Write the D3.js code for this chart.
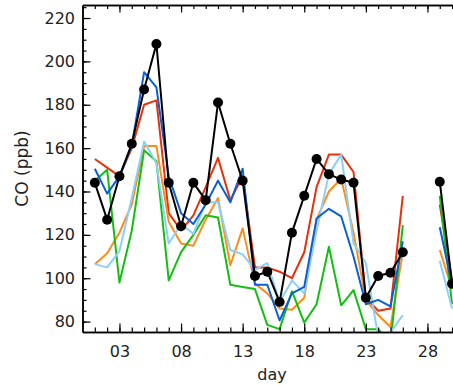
<!DOCTYPE html>
<html>
<head>
<meta charset="utf-8">
<script src="https://cdn.jsdelivr.net/npm/d3@7"></script>
<style>
  body { margin: 0; background: #fff; }
  text { font-family: "DejaVu Sans", sans-serif; fill: #222; }
</style>
</head>
<body>
<svg id="chart" width="453" height="385"></svg>
<script>
// days 1..30, null = no data
var days = d3.range(1, 31)
var xTickDays = [3, 8, 13, 18, 23, 28]
var xTickLabels = ["03", "08", "13", "18", "23", "28"]
var yTicks = [80, 100, 120, 140, 160, 180, 200, 220]

var obsCO   = [144,127,147,162,187,208,144,124,144,136,181,162,145,101,103,89,121,138,155,148,145.5,144,91,101,102.5,112,null,null,144.5,97.5]
var redCO   = [155,151,147,160,180,182,130,122,129,142,155.5,136,147,105,105,103,100,112,142,157,157,149,91,85,86,138,null,null,134,99]
var orangeCO= [106.5,111.5,121,134,161,161,126,116,115,127,137,106,123,97.5,93,86,85.5,91,127,140,146,121,90,83,77.5,112,null,null,113,95]
var greenCO = [145,150,98,122,159,154,99,112,120,129,128,97,96,95,78.5,76.5,94,79.5,88,114.5,87.5,94.5,76.5,76.5,70,124.5,null,null,138,88]
var ltblueCO= [106.5,105,112.5,137,163,153,116,125,120.5,135,135,113,111,104,107,89,99,93,122,148,157,116,107,73,75,83,null,null,108,86]
var blueCO  = [150.5,139,147,161,195,188,147,130,125,134,145,135,150.5,97,97,80.5,93,96,127.5,132,128.5,110,88,90,87,117,null,null,123.5,97]

var series = [
  {name: "red", values: redCO, color: "#e8300a"},
  {name: "orange", values: orangeCO, color: "#ff8c1a"},
  {name: "green", values: greenCO, color: "#12bf12"},
  {name: "ltblue", values: ltblueCO, color: "#8ccff8"},
  {name: "blue", values: blueCO, color: "#0a5fd4"},
  {name: "obs", values: obsCO, color: "#000"}
]

var svg = d3.select("#chart")
var padL = 82.5, padT = 5, padB = 332, padR = 464.4
var x = d3.scaleLinear().domain([0, 31]).range([padL, padR])
var y = d3.scaleLinear().domain([75.2, 226]).range([padB, padT])

svg.append("clipPath").attr("id", "plotclip")
  .append("rect")
  .attr("x", padL).attr("y", padT)
  .attr("width", padR - padL).attr("height", padB - padT)

var line = d3.line()
  .defined(d => d.v != null)
  .x(d => x(d.day))
  .y(d => y(d.v))

var plot = svg.append("g").attr("clip-path", "url(#plotclip)")

series.forEach(s => {
  var pts = days.map((d, i) => ({day: d, v: s.values[i]}))
  plot.append("path")
    .datum(pts)
    .attr("fill", "none")
    .attr("stroke", s.color)
    .attr("stroke-width", 2)
    .attr("stroke-linejoin", "round")
    .attr("d", line)
})

// observation markers
plot.selectAll("circle")
  .data(days.map((d, i) => ({day: d, v: obsCO[i]})).filter(d => d.v != null))
  .enter()
  .append("circle")
  .attr("cx", d => x(d.day))
  .attr("cy", d => y(d.v))
  .attr("r", 5)
  .attr("fill", "#000")

// axes: ticks point inward
var minorY = d3.range(80, 226, 5)
svg.append("g")
  .attr("transform", "translate(" + padL + ",0)")
  .call(d3.axisLeft(y).tickValues(minorY).tickSizeInner(-4).tickSizeOuter(0).tickFormat(""))
svg.append("g")
  .attr("class", "yaxis")
  .attr("transform", "translate(" + padL + ",0)")
  .call(d3.axisLeft(y).tickValues(yTicks).tickSizeInner(-8).tickSizeOuter(0).tickPadding(7.5).tickFormat(d3.format("d")))

svg.append("g")
  .attr("transform", "translate(0," + padB + ")")
  .call(d3.axisBottom(x).tickValues(d3.range(1, 31)).tickSizeInner(-4.5).tickSizeOuter(0).tickFormat(""))
svg.append("g")
  .attr("class", "xaxis")
  .attr("transform", "translate(0," + padB + ")")
  .call(d3.axisBottom(x).tickValues(xTickDays).tickSizeInner(-8.5).tickSizeOuter(0).tickPadding(14)
    .tickFormat((d, i) => xTickLabels[i]))

svg.append("g")
  .attr("transform", "translate(0," + padT + ")")
  .call(d3.axisTop(x).tickValues(d3.range(1, 31)).tickSizeInner(-4).tickSizeOuter(0).tickFormat(""))
svg.append("g")
  .attr("transform", "translate(0," + padT + ")")
  .call(d3.axisTop(x).tickValues(xTickDays).tickSizeInner(-7.5).tickSizeOuter(0).tickFormat(""))

svg.selectAll(".domain").attr("stroke", "#000").attr("stroke-width", 1.5)
svg.selectAll(".tick line").attr("stroke", "#000").attr("stroke-width", 1.2)
svg.selectAll(".yaxis text, .xaxis text")
  .style("font-size", "16px")
  .style("font-family", "'DejaVu Sans', sans-serif")
  .attr("fill", "#222")

svg.append("text")
  .attr("x", 272)
  .attr("y", 380)
  .attr("text-anchor", "middle")
  .style("font-size", "16px")
  .text("day")

svg.append("text")
  .attr("transform", "translate(28," + ((padT + padB) / 2) + ") rotate(-90)")
  .attr("text-anchor", "middle")
  .style("font-size", "17px")
  .text("CO (ppb)")
</script>
</body>
</html>
